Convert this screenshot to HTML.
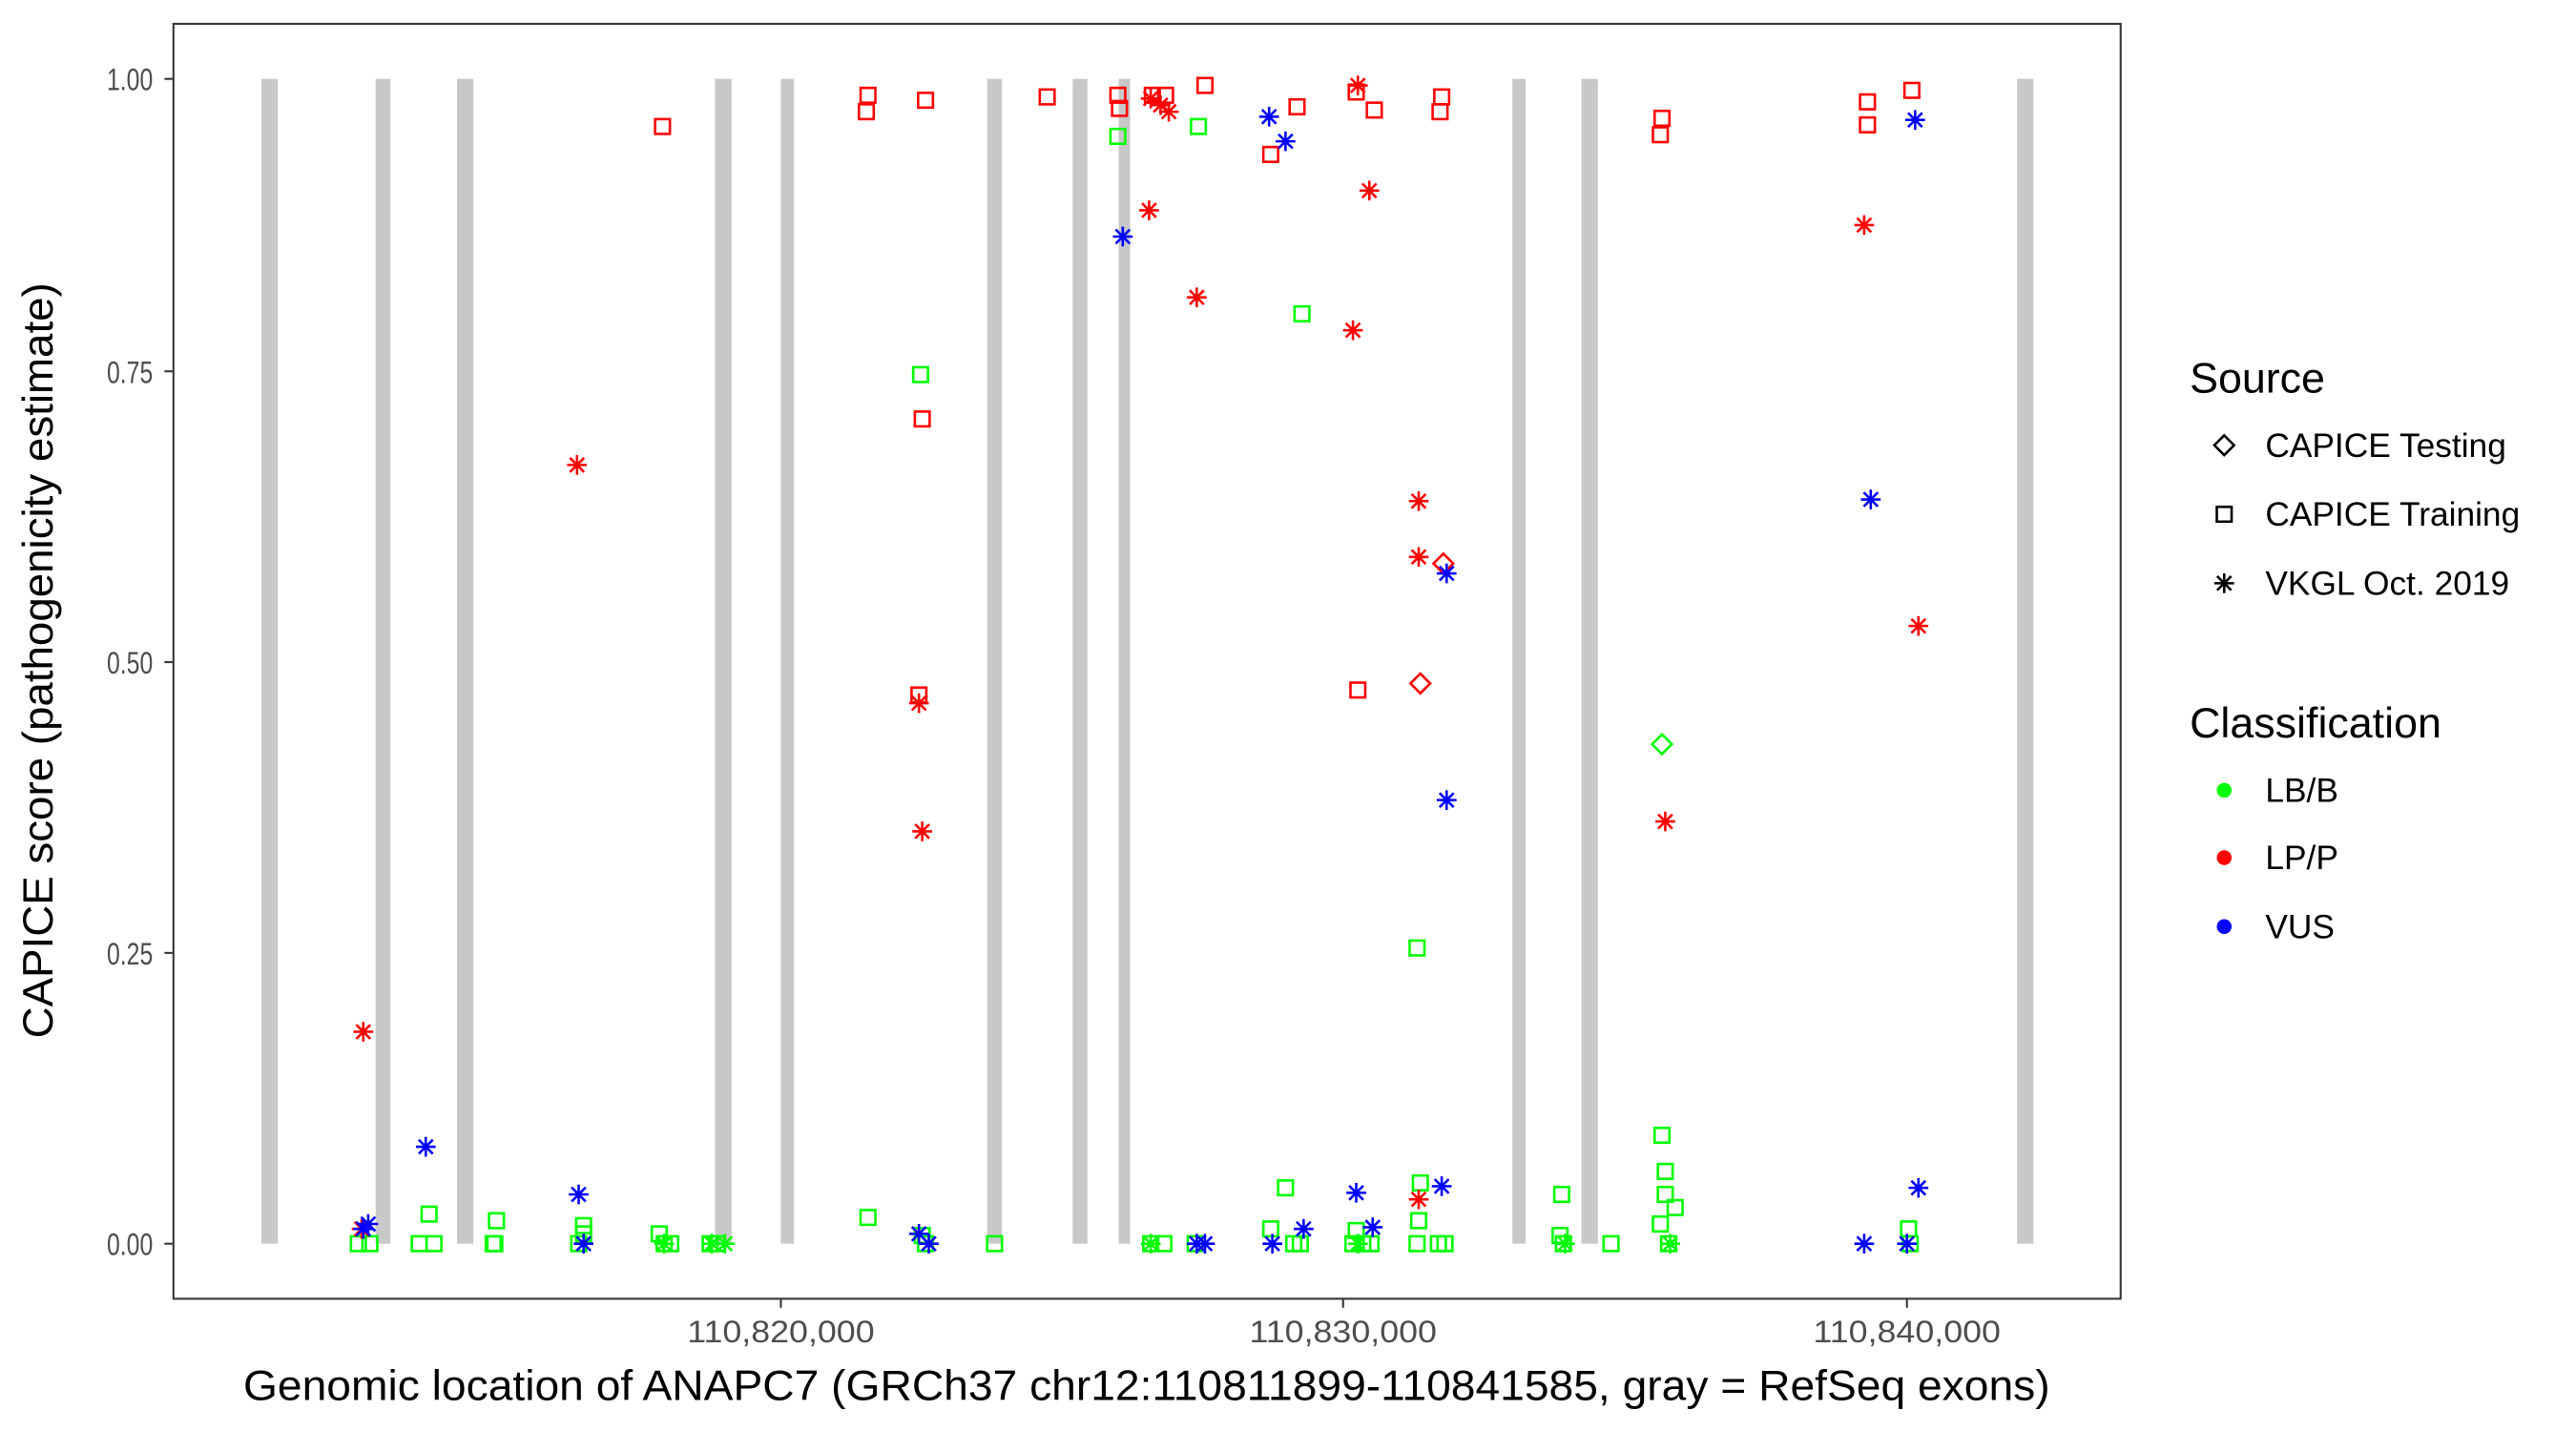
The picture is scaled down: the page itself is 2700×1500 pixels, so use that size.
<!DOCTYPE html>
<html><head><meta charset="utf-8"><style>
html,body{margin:0;padding:0;background:#fff;}
svg{display:block;}
.tk{font-family:"Liberation Sans",sans-serif;font-size:19px;fill:#4d4d4d;}
.ttl{font-family:"Liberation Sans",sans-serif;font-size:26px;fill:#000;}
.lg{font-family:"Liberation Sans",sans-serif;fill:#000;}
</style></head><body>
<svg id="s" width="2700" height="1500" viewBox="0 0 1567 871" preserveAspectRatio="none" xmlns="http://www.w3.org/2000/svg">
<rect x="0" y="0" width="1567" height="871" fill="#fff"/>
<g id="bars" fill="#c8c8c8"></g>
<g id="pts" fill="none" stroke-width="1.5"></g>
<rect x="105.5" y="14.5" width="1184.5" height="776" fill="none" stroke="#333" stroke-width="1.2"/>
<g stroke="#333" stroke-width="1.2">
<line x1="100" y1="48" x2="105" y2="48"/><line x1="100" y1="226" x2="105" y2="226"/>
<line x1="100" y1="403" x2="105" y2="403"/><line x1="100" y1="580" x2="105" y2="580"/>
<line x1="100" y1="757" x2="105" y2="757"/>
<line x1="475" y1="791" x2="475" y2="796"/><line x1="817" y1="791" x2="817" y2="796"/>
<line x1="1160" y1="791" x2="1160" y2="796"/>
</g>
<g class="tk" text-anchor="end">
<text x="93" y="55" textLength="28" lengthAdjust="spacingAndGlyphs">1.00</text>
<text x="93" y="233" textLength="28" lengthAdjust="spacingAndGlyphs">0.75</text>
<text x="93" y="410" textLength="28" lengthAdjust="spacingAndGlyphs">0.50</text>
<text x="93" y="587" textLength="28" lengthAdjust="spacingAndGlyphs">0.25</text>
<text x="93" y="764" textLength="28" lengthAdjust="spacingAndGlyphs">0.00</text>
</g>
<g class="tk">
<text x="418" y="817" textLength="114" lengthAdjust="spacingAndGlyphs">110,820,000</text>
<text x="760" y="817" textLength="114" lengthAdjust="spacingAndGlyphs">110,830,000</text>
<text x="1103" y="817" textLength="114" lengthAdjust="spacingAndGlyphs">110,840,000</text>
</g>
<text class="ttl" x="148" y="852" textLength="1099" lengthAdjust="spacingAndGlyphs">Genomic location of ANAPC7 (GRCh37 chr12:110811899-110841585, gray = RefSeq exons)</text>
<text class="ttl" transform="translate(32,632) rotate(-90)" textLength="460" lengthAdjust="spacingAndGlyphs">CAPICE score (pathogenicity estimate)</text>
<g class="lg">
<text x="1332" y="239" font-size="26">Source</text>
<text x="1378" y="278" font-size="20.5">CAPICE Testing</text>
<text x="1378" y="320" font-size="20.5">CAPICE Training</text>
<text x="1378" y="362" font-size="20.5">VKGL Oct. 2019</text>
<text x="1332" y="449" font-size="26">Classification</text>
<text x="1378" y="488" font-size="20.5">LB/B</text>
<text x="1378" y="529" font-size="20.5">LP/P</text>
<text x="1378" y="571" font-size="20.5">VUS</text>
</g>
<g id="leg" fill="none" stroke="#000" stroke-width="1.5"></g>
<circle cx="1353" cy="481" r="4.5" fill="#00ff00"/>
<circle cx="1353" cy="522" r="4.5" fill="#ff0000"/>
<circle cx="1353" cy="564" r="4.5" fill="#0000ff"/>
</svg>
<script>
var NS="http://www.w3.org/2000/svg";
function el(p,t,a){var e=document.createElementNS(NS,t);for(var k in a)e.setAttribute(k,a[k]);p.appendChild(e);return e;}
var bars=document.getElementById('bars');
[[164,10],[233,9],[283,10],[440,10],[479,8],[605,9],[657,9],[684,7],[924,8],[967,10],[1232,10]].forEach(function(b){
 el(bars,'rect',{x:b[0]-b[1]/2,y:48,width:b[1],height:709});});
var pts=document.getElementById('pts');
function sq(g,x,y,c){el(g,'rect',{x:x-4.5,y:y-4.5,width:9,height:9,stroke:c,fill:'none'});}
function di(g,x,y,c){el(g,'polygon',{points:(x)+','+(y-6)+' '+(x+6)+','+y+' '+x+','+(y+6)+' '+(x-6)+','+y,stroke:c,fill:'none'});}
function as(g,x,y,c){var r=6,d=4.3;
 el(g,'line',{x1:x,y1:y-r,x2:x,y2:y+r,stroke:c});el(g,'line',{x1:x-r,y1:y,x2:x+r,y2:y,stroke:c});
 el(g,'line',{x1:x-d,y1:y-d,x2:x+d,y2:y+d,stroke:c});el(g,'line',{x1:x-d,y1:y+d,x2:x+d,y2:y-d,stroke:c});}
var G='#00ff00',R='#ff0000',B='#0000ff';
var gs=[[560,228],[680,83],[729,77],[792,191],[862,577],[218,757],[225,757],[255,757],[264,757],[261,739],[300,757],[302,743],[301,757],[352,757],[355,746],[355,751],[401,751],[404,757],[408,757],[432,757],[436,757],[528,741],[561,752],[563,757],[605,757],[700,757],[708,757],[727,757],[773,748],[782,723],[787,757],[791,757],[823,757],[825,749],[829,757],[834,757],[862,757],[863,743],[864,720],[875,757],[879,757],[950,727],[949,752],[951,757],[980,757],[1011,691],[1013,713],[1013,727],[1010,745],[1019,735],[1015,757],[1161,748],[1162,757]];
gs.forEach(function(p){sq(pts,p[0],p[1],G);});
[[441,757],[433,757],[700,757],[826,757],[952,757],[1016,757],[404,757]].forEach(function(p){as(pts,p[0],p[1],G);});
di(pts,1011,453,G);
[[403,77],[528,58],[527,68],[563,61],[637,59],[561,255],[559,423],[680,58],[681,66],[701,58],[709,58],[733,52],[773,94],[789,65],[825,56],[836,67],[877,59],[876,68],[1011,72],[1010,82],[1136,62],[1136,76],[1163,55],[826,420]].forEach(function(p){sq(pts,p[0],p[1],R);});
[[221,628],[220,748],[351,283],[561,506],[559,428],[699,128],[700,60],[706,64],[711,68],[728,181],[823,201],[826,52],[833,116],[863,305],[863,339],[863,730],[1013,500],[1134,137],[1167,381]].forEach(function(p){as(pts,p[0],p[1],R);});
di(pts,878,343,R);di(pts,864,416,R);
[[224,745],[221,748],[259,698],[352,727],[355,757],[559,751],[565,757],[683,144],[772,71],[782,86],[728,757],[733,757],[774,757],[793,748],[825,726],[835,747],[877,722],[880,349],[880,487],[1138,304],[1165,73],[1134,757],[1160,757],[1167,723]].forEach(function(p){as(pts,p[0],p[1],B);});
var leg=document.getElementById('leg');
di(leg,1353,271,'#000');sq(leg,1353,313,'#000');as(leg,1353,355,'#000');
</script>
</body></html>
